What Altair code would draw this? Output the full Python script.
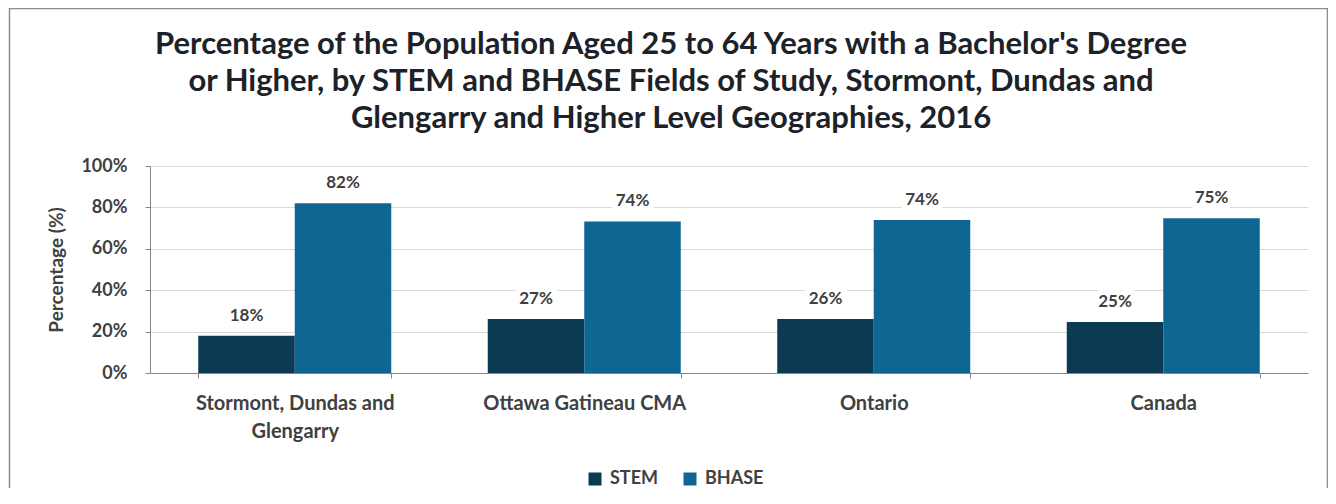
import json
import altair as alt
import pandas as pd

# ---- data ----
regions = ["Stormont, Dundas and Glengarry", "Ottawa Gatineau CMA", "Ontario", "Canada"]
region_label_lines = [["Stormont, Dundas and", "Glengarry"], ["Ottawa Gatineau CMA"], ["Ontario"], ["Canada"]]
fields = ["STEM", "BHASE"]
stem_values = [18.0, 26.1, 26.1, 24.6]
bhase_values = [82.0, 73.2, 73.9, 74.7]
stem_labels = ["18%", "27%", "26%", "25%"]
bhase_labels = ["82%", "74%", "74%", "75%"]
y_ticks = [0, 20, 40, 60, 80, 100]
y_title = "Percentage (%)"
title_lines = [
    "Percentage of the Population Aged 25 to 64 Years with a Bachelor's Degree",
    "or Higher, by STEM and  BHASE Fields of Study, Stormont, Dundas and",
    "Glengarry and Higher Level Geographies, 2016",
]
colors = ["#0b3a52", "#0e6693"]

rows = []
for i, r in enumerate(regions):
    rows.append({"region": r, "field": "STEM", "value": stem_values[i], "label": stem_labels[i]})
    rows.append({"region": r, "field": "BHASE", "value": bhase_values[i], "label": bhase_labels[i]})
df = pd.DataFrame(rows)

# multi-line x labels
expr = "datum.value"
for r, lines in reversed(list(zip(regions, region_label_lines))):
    expr = f"datum.value === {json.dumps(r)} ? {json.dumps(lines)} : ({expr})"

FONT = "Lato"
TXT = "#404040"
AXC = "#868686"

W, H = 1158, 207

base = alt.Chart(df).encode(
    x=alt.X(
        "region:N",
        sort=regions,
        scale=alt.Scale(paddingInner=1 / 3, paddingOuter=1 / 6),
        axis=alt.Axis(
            title=None,
            labelAngle=0,
            labelExpr=expr,
            labelLineHeight=28,
            labelPadding=15,
            labelFont=FONT,
            labelFontSize=20,
            labelFontWeight="bold",
            labelColor=TXT,
            labelLimit=400,
            domainColor=AXC,
            tickColor=AXC,
            tickSize=5,
            tickBand="extent",
            grid=False,
        ),
    ),
    xOffset=alt.XOffset("field:N", sort=fields, scale=alt.Scale(paddingInner=0, paddingOuter=0)),
)

bars = base.mark_bar().encode(
    y=alt.Y(
        "value:Q",
        scale=alt.Scale(domain=[0, 100], nice=False),
        axis=alt.Axis(
            title=y_title,
            values=y_ticks,
            labelExpr="datum.value + '%'",
            grid=True,
            gridColor="#d9d9d9",
            domainColor=AXC,
            tickColor=AXC,
            tickSize=5,
            labelFont=FONT,
            labelFontSize=18,
            labelFontWeight="bold",
            labelColor=TXT,
            labelPadding=18,
            titleFont=FONT,
            titleFontSize=19,
            titleFontWeight="bold",
            titleColor=TXT,
            titleX=-94,
            titleY=H / 2,
            titleAngle=270,
            titleAlign="center",
            titleBaseline="middle",
        ),
    ),
    color=alt.Color(
        "field:N",
        sort=fields,
        scale=alt.Scale(domain=fields, range=colors),
        legend=alt.Legend(
            title=None,
            orient="none",
            legendX=436,
            legendY=304,
            direction="horizontal",
            symbolType="square",
            symbolSize=169,
            symbolStrokeWidth=0,
            symbolOpacity=1,
            labelFont=FONT,
            labelFontSize=18,
            labelFontWeight="bold",
            labelColor=TXT,
            labelOffset=6,
            columnPadding=22,
            padding=0,
        ),
    ),
)

halo = base.mark_text(
    font=FONT, fontSize=17, fontWeight="bold", baseline="middle", dy=-20,
    color="white", stroke="white", strokeWidth=12, strokeJoin="round",
).encode(y="value:Q", text="label:N")

labels = base.mark_text(
    font=FONT, fontSize=17, fontWeight="bold", baseline="middle", dy=-20, color=TXT,
).encode(y="value:Q", text="label:N")

border = alt.Chart(pd.DataFrame({"k": [0]})).mark_rect(
    fillOpacity=0, stroke="#8c8c8c", strokeWidth=1.5
).encode(
    x=alt.value(-140.5), x2=alt.value(1177.5), y=alt.value(-157.5), y2=alt.value(340)
)

title_layers = []
for i, line in enumerate(title_lines):
    title_layers.append(
        alt.Chart(pd.DataFrame({"t": [line]})).mark_text(
            font=FONT, fontSize=31, fontWeight="bold", color="#1c2228",
            align="center", baseline="alphabetic",
        ).encode(text="t:N", x=alt.value(521), y=alt.value(-112 + 37 * i))
    )

chart = alt.layer(border, bars, halo, labels, *title_layers).properties(
    width=W,
    height=H,
    padding={"left": 142, "top": 158, "right": 20, "bottom": 115},
    autosize=alt.AutoSizeParams(type="none"),
).configure_view(strokeWidth=0)

chart.save("out.html", embed_options={"renderer": "svg", "actions": False})
